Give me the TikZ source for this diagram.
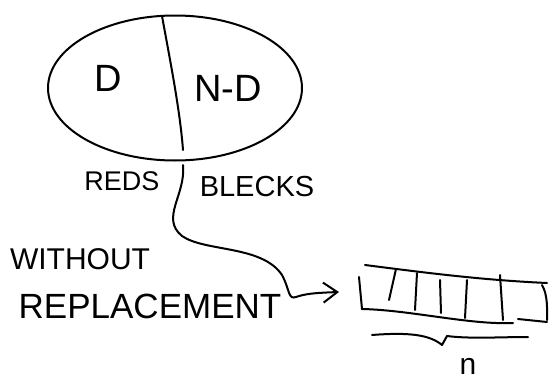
\documentclass[tikz,border=0pt]{standalone}
\usepackage{fontspec}
\setmainfont{Liberation Sans}
\usetikzlibrary{shapes.geometric,arrows.meta}
\begin{document}
\begin{tikzpicture}[x=1pt,y=-1pt,
  ink/.style={line width=2pt,line cap=round,line join=round},
  lbl/.style={inner sep=0pt,anchor=center}]
\useasboundingbox (0,0) rectangle (550,383);
% ellipse
\node[ink,draw,ellipse,minimum width=254pt,minimum height=145pt] (ell) at (175,88) {};
\draw[ink] (162,16) .. controls (170,60) and (180,110) .. (183,150);
\node[lbl,font=\fontsize{38}{38}\selectfont] (d) at (108,78) {D};
\node[lbl,font=\fontsize{38}{38}\selectfont] (nd) at (228,88) {N-D};
\node[lbl,font=\fontsize{27}{27}\selectfont] (reds) at (122,181) {REDS};
\node[lbl,font=\fontsize{29}{29}\selectfont] (blecks) at (257,187) {BLECKS};
\node[lbl,font=\fontsize{30}{30}\selectfont] (without) at (80,259) {WITHOUT};
\node[lbl,font=\fontsize{35}{35}\selectfont] (repl) at (150,306) {REPLACEMENT};
% connector
\coordinate (s) at (183,165);
\coordinate (t) at (339,292);
\draw[ink,-{Straight Barb[length=14pt,width=20pt]}] (s) .. controls (186,195) and (160,218) .. (182,236)
  .. controls (205,252) and (262,245) .. (282,275)
  .. controls (290,290) and (288,300) .. (296,297)
  .. controls (305,294) and (312,293) .. (t);
% array
\draw[ink] (365,265) .. controls (420,272) and (480,280) .. (547,283);
\draw[ink] (362,309) .. controls (410,310) and (470,325) .. (513,323);
\draw[ink] (518,319) -- (547,322);
\draw[ink] (359,277) -- (362,309);
\draw[ink] (542,285) .. controls (548,295) and (547,310) .. (547,320);
\draw[ink] (396,269) -- (389,300);
\draw[ink] (417,273) -- (415,310);
\draw[ink] (440,280) -- (441,313);
\draw[ink] (467,280) -- (465,318);
\draw[ink] (500,275) -- (503,320);
% brace
\draw[ink] (372,335) .. controls (410,332) and (430,335) .. (442,345) -- (447,336)
  .. controls (470,339) and (500,337) .. (528,337);
\node[lbl,font=\fontsize{30}{30}\selectfont] (n) at (468,366) {n};
\end{tikzpicture}
\end{document}
